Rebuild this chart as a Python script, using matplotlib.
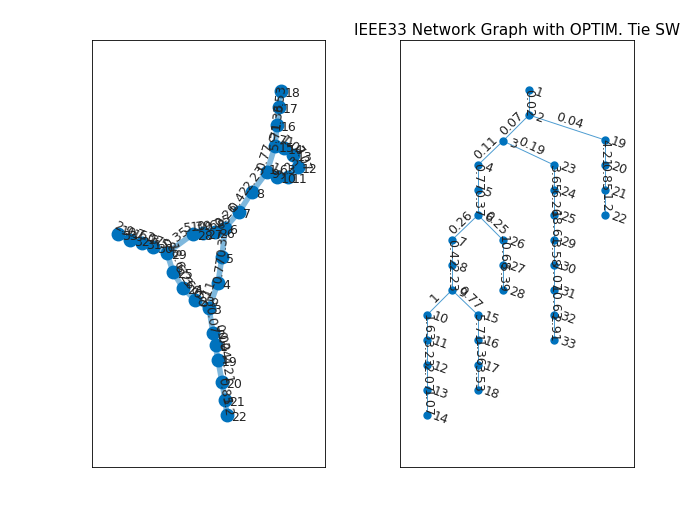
import math
import matplotlib
matplotlib.use("Agg")
import matplotlib.pyplot as plt

# ---- tree (optimised tie switches) ----
edges = [(1, 2), (2, 3), (2, 19), (3, 4), (3, 23), (4, 5), (5, 6), (6, 7), (6, 26),
         (7, 8), (8, 9), (9, 10), (9, 15), (10, 11), (11, 12), (12, 13), (13, 14),
         (15, 16), (16, 17), (17, 18), (26, 27), (27, 28), (19, 20), (20, 21), (21, 22),
         (23, 24), (24, 25), (25, 29), (29, 30), (30, 31), (31, 32), (32, 33)]
weights = [0.02, 0.07, 0.04, 0.11, 0.19, 0.77, 0.37, 0.26, 0.25,
           0.42, 2.23, 1, 0.77, 1.63, 3.23, 2.07, 1.07,
           5.71, 1.36, 3.53, 10.68, 5.39, 4.21, 0.85, 1.2,
           3.65, 6.26, 18.61, 3.58, 7.07, 10.63, 2.91]
tie_edges = [(28, 29), (14, 15)]
tie_weights = [0.35, 0.71]

# layered layout of right graph (figure pixels)
layout_r = {1: (529, 90), 2: (529, 115), 3: (503, 141), 19: (605, 140),
            4: (478, 165), 5: (478, 190), 6: (478, 215),
            23: (554, 165), 24: (554, 190), 25: (554, 215), 29: (554, 240),
            30: (554, 265), 31: (554, 290), 32: (554, 315), 33: (554, 340),
            20: (605, 165), 21: (605, 190), 22: (605, 215),
            7: (452, 240), 8: (452, 265), 9: (452, 290),
            26: (503, 240), 27: (503, 265), 28: (503, 290),
            10: (427, 315), 11: (427, 340), 12: (427, 365), 13: (427, 390), 14: (427, 415),
            15: (478, 315), 16: (478, 340), 17: (478, 365), 18: (478, 390)}
# force layout of left graph (figure pixels)
layout_l = {18: (281, 91), 17: (279, 107), 16: (277, 125), 15: (275, 146), 14: (284, 148),
            13: (293, 155), 12: (298, 167), 11: (288, 177), 10: (277, 177), 9: (267, 172),
            8: (252, 192), 7: (239, 212), 6: (225, 228), 26: (215, 232), 27: (203, 233),
            28: (193, 234), 29: (167, 253), 30: (153, 247), 31: (142, 243), 32: (130, 240),
            33: (118, 234), 25: (173, 272), 24: (183, 288), 23: (195, 300), 3: (209, 308),
            4: (218, 283), 5: (222, 257), 2: (213, 333), 1: (216, 345), 19: (218, 360),
            20: (222, 382), 21: (225, 400), 22: (227, 415)}

BLUE = "#0072BD"
fig = plt.figure(figsize=(7, 5.25), dpi=100)


def make_ax(x0, x1):
    ax = fig.add_axes([x0 / 700, 1 - 467 / 525, (x1 - x0) / 700, (467 - 40) / 525])
    ax.set_xlim(x0, x1)
    ax.set_ylim(467, 40)
    ax.set_xticks([])
    ax.set_yticks([])
    for s in ax.spines.values():
        s.set_linewidth(0.6)
    return ax


def angle(p, q):
    a = math.degrees(math.atan2(-(q[1] - p[1]), q[0] - p[0]))
    if a >= 90:
        a -= 180
    elif a < -90:
        a += 180
    return a


def draw(ax, pos, elist, wlist, lw, ms, node_rot):
    for (u, v), w in zip(elist, wlist):
        p, q = pos[u], pos[v]
        a = angle(p, q)
        ax.plot([p[0], q[0]], [p[1], q[1]], color=BLUE, alpha=0.5 if lw > 1 else 0.7,
                lw=lw, solid_capstyle="butt", zorder=1)
        ax.text((p[0] + q[0]) / 2, (p[1] + q[1]) / 2, f"{w:g}", fontsize=9,
                rotation=a, ha="center", va="center" if abs(a) > 80 else "bottom",
                rotation_mode="anchor", color="#222222", zorder=3)
    xs = [pos[n][0] for n in pos]
    ys = [pos[n][1] for n in pos]
    ax.plot(xs, ys, "o", color=BLUE, ms=ms, ls="none", zorder=2)
    for n, (x, y) in pos.items():
        ax.text(x + 4, y + 3, str(n), fontsize=9, rotation=node_rot,
                ha="left", va="center", color="#222222", zorder=3)


axl = make_ax(92, 325)
draw(axl, layout_l, edges + tie_edges, weights + tie_weights, 4, 9, 0)
axr = make_ax(400, 634)
draw(axr, layout_r, edges, weights, 0.7, 5, -20)
fig.text(517 / 700, 1 - 30 / 525, "IEEE33 Network Graph with OPTIM. Tie SW",
         ha="center", va="center", fontsize=11)
fig.savefig("out.png", dpi=100)
